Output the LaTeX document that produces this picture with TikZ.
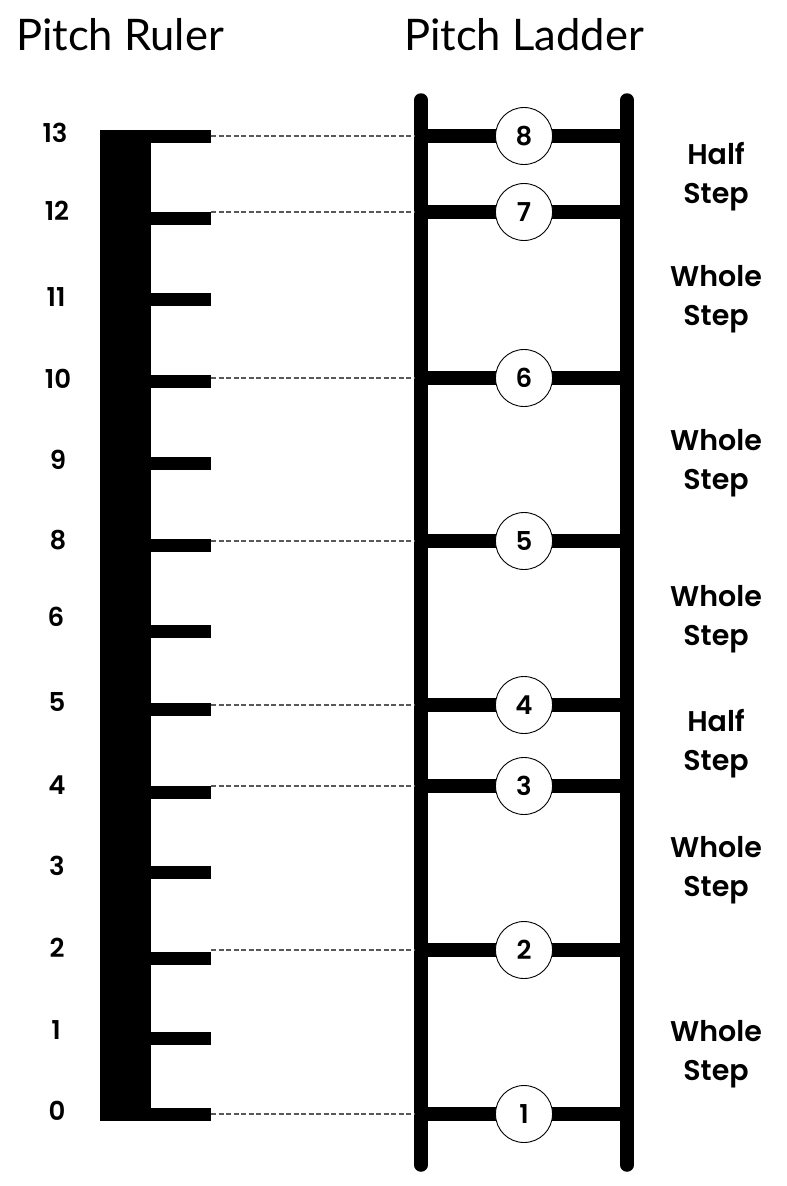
\documentclass[tikz,border=0pt]{standalone}
\usepackage{fontspec}
\setmainfont{Lato}
\newfontfamily\semib{Poppins SemiBold}
\begin{document}
\begin{tikzpicture}[x=1pt,y=-1pt,
  tick/.style={fill=black,inner sep=0pt,minimum width=60pt,minimum height=13pt},
  rung/.style={line width=14pt},
  rail/.style={line width=13.5pt,line cap=round},
  guide/.style={draw=black!65,line width=1.3pt,dash pattern=on 5pt off 2.5pt},
  deg/.style={circle,draw=black,line width=0.9pt,fill=white,minimum size=57pt,inner sep=0pt,font=\semib\fontsize{26}{26}\selectfont},
  num/.style={inner sep=0pt,font=\semib\fontsize{26}{26}\selectfont},
  steplab/.style={align=center,inner sep=0pt,font=\semib\fontsize{28.5}{39}\selectfont},
  ttl/.style={inner sep=0pt,font=\fontsize{43.5}{43.5}\selectfont}]
\useasboundingbox (0,0) rectangle (787,1186);
\fill[white] (0,0) rectangle (787,1186);
% titles
\node[ttl] (title1) at (120,35) {Pitch Ruler};
\node[ttl] (title2) at (524,35) {Pitch Ladder};
% ruler bar
\fill[black] (100,130) rectangle (151,1121);
% ticks
\foreach \n/\y in {13/136.5,12/218,11/299,10/381,9/463,8/545,6/631,5/709,4/792,3/872,2/958,1/1038,0/1114}{
  \node[tick] (t\n) at (181,\y) {};
}
% ruler numbers
\foreach \n/\x/\y in {13/55/133,12/57/211,11/56/297,10/58/379,9/58/460,8/58/540,6/56/617,5/57/702,4/57/785,3/57/866,2/57/948,1/56/1030,0/57/1111}{
  \node[num] (n\n) at (\x,\y) {\n};
}
% rails
\coordinate (Ltop) at (421,100);
\coordinate (Lbot) at (421,1165);
\coordinate (Rtop) at (627,100);
\coordinate (Rbot) at (627,1165);
% rungs
\foreach \d/\y in {8/136,7/212,6/378,5/541,4/705,3/786,2/950,1/1114}{
  \coordinate (l\d) at (421,\y);
  \coordinate (r\d) at (627,\y);
  \draw[rung] (l\d) -- (r\d);
}
\draw[rail] (Ltop) -- (Lbot);
\draw[rail] (Rtop) -- (Rbot);
% guides
\foreach \t/\d in {13/8,12/7,10/6,8/5,5/4,4/3,2/2,0/1}{
  \draw[guide] (t\t.east |- l\d) -- ([xshift=-6.5pt]l\d);
}
% degree circles
\foreach \d/\y in {8/136,7/212,6/378,5/541,4/705,3/786,2/950,1/1114}{
  \node[deg] (c\d) at (524,\y) {\d};
}
% step labels
\node[steplab] (s1) at (716,177) {Half\\Step};
\node[steplab] (s2) at (716,299) {Whole\\Step};
\node[steplab] (s3) at (716,463) {Whole\\Step};
\node[steplab] (s4) at (716,619) {Whole\\Step};
\node[steplab] (s5) at (716,744) {Half\\Step};
\node[steplab] (s6) at (716,870) {Whole\\Step};
\node[steplab] (s7) at (716,1054) {Whole\\Step};
\end{tikzpicture}
\end{document}
